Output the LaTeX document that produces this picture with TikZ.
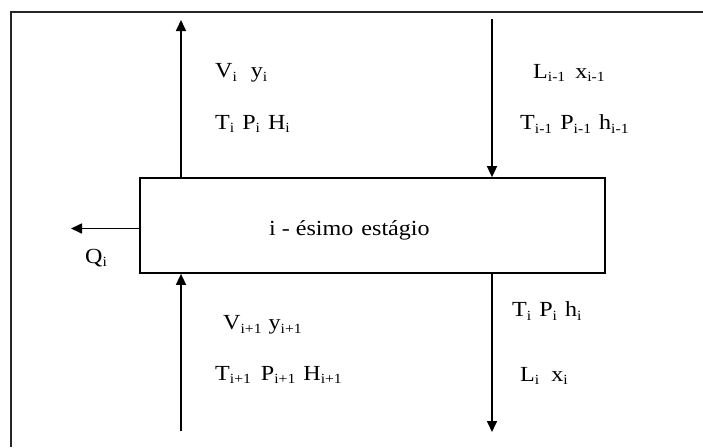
\documentclass[tikz,border=0pt]{standalone}
\usepackage{fontspec}
\setmainfont{Liberation Serif}[FakeStretch=1.12]
\usetikzlibrary{arrows.meta}
\newcommand{\sbs}[1]{\raisebox{-3.5pt}{\fontsize{14}{14}\selectfont #1}}
\tikzset{
  arr/.style={line width=1.6pt,-{Triangle[width=10pt,length=11pt]}},
  lbl/.style={anchor=west,inner sep=0pt,font=\fontsize{21.5}{25}\selectfont},
  stagebox/.style={draw,line width=1.7pt,minimum width=465pt,minimum height=95pt,inner sep=0pt}
}
\begin{document}
\begin{tikzpicture}[x=1pt,y=-1pt]
\useasboundingbox (0,0) rectangle (703,447);
\draw[line width=1.8pt,black!85] (11,447) -- (11,12) -- (703,12);
\node[stagebox] (stage) at (372.5,225.5) {};
\node[lbl] (stagetxt) at (269,230) {i\hspace{6pt}-\hspace{6pt}ésimo\hspace{2pt} estágio};
\coordinate (vtop) at (181,20);
\coordinate (ltop) at (492,19);
\coordinate (vbot) at (181,431);
\coordinate (lbot) at (492,432);
\coordinate (qend) at (71,228.5);
\draw[arr] (vtop |- stage.north) -- (vtop);
\draw[arr] (ltop) -- (ltop |- stage.north);
\draw[arr] (vbot) -- (vbot |- stage.south);
\draw[arr] (lbot |- stage.south) -- (lbot);
\draw[arr] (stage.west |- qend) -- (qend);
\node[lbl] (vi) at (215,73) {V\sbs{i}\hspace{14pt}y\sbs{i}};
\node[lbl] (tpi) at (215,124) {T\sbs{i}\hspace{8pt}P\sbs{i}\hspace{8pt}H\sbs{i}};
\node[lbl] (lim) at (533,73) {L\sbs{i-1}\hspace{10pt}x\sbs{i-1}};
\node[lbl] (tpim) at (520,124) {T\sbs{i-1}\hspace{8pt}P\sbs{i-1}\hspace{8pt}h\sbs{i-1}};
\node[lbl] (tphi) at (512,311) {T\sbs{i}\hspace{8pt}P\sbs{i}\hspace{8pt}h\sbs{i}};
\node[lbl] (li) at (520,376) {L\sbs{i}\hspace{12pt}x\sbs{i}};
\node[lbl] (vip) at (223,325) {V\sbs{i+1}\hspace{7pt}y\sbs{i+1}};
\node[lbl] (tpip) at (215,375) {T\sbs{i+1}\hspace{10pt}P\sbs{i+1}\hspace{8pt}H\sbs{i+1}};
\node[lbl] (qi) at (85,258) {Q\sbs{i}};
\end{tikzpicture}
\end{document}
